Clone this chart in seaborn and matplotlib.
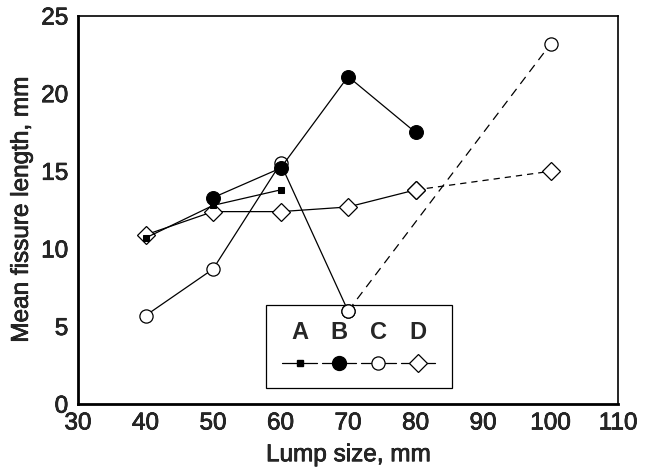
import matplotlib
matplotlib.use("Agg")
import matplotlib.pyplot as plt
import matplotlib.patheffects as pe
import seaborn as sns
from matplotlib.lines import Line2D
from matplotlib.offsetbox import VPacker

# ---- data ----
a_x = [40, 50, 60]
a_y = [10.7, 12.8, 13.8]
b_x = [50, 60, 70, 80]
b_y = [13.3, 15.2, 21.1, 17.5]
c_x = [40, 50, 60, 70]
c_y = [5.7, 8.7, 15.5, 6.0]
c_ext_x = [70, 100]
c_ext_y = [6.0, 23.2]
d_x = [40, 50, 60, 70, 80]
d_y = [10.9, 12.4, 12.4, 12.7, 13.8]
d_ext_x = [80, 100]
d_ext_y = [13.8, 15.0]
series_names = ["A", "B", "C", "D"]
x_ticks = [30, 40, 50, 60, 70, 80, 90, 100, 110]
y_ticks = [0, 5, 10, 15, 20, 25]

sns.set_theme(style="white")
plt.rcParams["font.family"] = ["Liberation Sans", "DejaVu Sans"]

fig = plt.figure(figsize=(6.5, 4.71), dpi=100)
ax = fig.add_axes([0.12, 0.142, 0.831, 0.824])

lw = 0.9
styles = {
    "A": dict(marker="s", markersize=5, markerfacecolor="black", markeredgecolor="black"),
    "B": dict(marker="o", markersize=10, markerfacecolor="black", markeredgecolor="black"),
    "C": dict(marker="o", markersize=9.5, markerfacecolor="white", markeredgecolor="black", markeredgewidth=0.9),
    "D": dict(marker="D", markersize=9, markerfacecolor="white", markeredgecolor="black", markeredgewidth=0.9),
}

# dashed extensions
sns.lineplot(x=c_ext_x, y=c_ext_y, ax=ax, color="black", lw=lw,
             linestyle=(0, (7, 5)), zorder=3, **styles["C"])
sns.lineplot(x=d_ext_x, y=d_ext_y, ax=ax, color="black", lw=lw,
             linestyle=(0, (5, 4)), zorder=3, **styles["D"])

for name, xs, ys in [("C", c_x, c_y), ("D", d_x, d_y), ("B", b_x, b_y), ("A", a_x, a_y)]:
    sns.lineplot(x=xs, y=ys, ax=ax, color="black", lw=lw, zorder=4, **styles[name])

ax.set_xlim(30, 110)
ax.set_ylim(0, 25)
ax.set_xticks(x_ticks)
ax.set_yticks(y_ticks)
ax.tick_params(axis="x", direction="in", length=5, width=0.8, labelsize=17.5, pad=6, color="black")
ax.tick_params(axis="y", direction="in", length=0, labelsize=17.5, pad=7)
for s in ax.spines.values():
    s.set_color("black")
    s.set_linewidth(1.2)
ax.spines["left"].set_linewidth(2)
ax.spines["bottom"].set_linewidth(2)
ax.set_xlabel("Lump size, mm", fontsize=17.5, labelpad=7)
ax.set_ylabel("Mean fissure length, mm", fontsize=17.5, labelpad=6)

thick = [pe.withStroke(linewidth=0.5, foreground="black")]
for t in ax.get_xticklabels() + ax.get_yticklabels() + [ax.xaxis.label, ax.yaxis.label]:
    t.set_path_effects(thick)

handles = []
for name in series_names:
    st = dict(styles[name])
    handles.append(Line2D([], [], color="black", lw=lw, linestyle="-", **st))
leg = ax.legend(handles, series_names, ncol=4, loc="lower left",
                bbox_to_anchor=(0.348, 0.041), frameon=True, fancybox=False,
                framealpha=1, handlelength=1.45, columnspacing=0.22, handletextpad=0,
                prop={"size": 17, "weight": "bold"}, borderpad=0.7,
                borderaxespad=0)
leg.get_frame().set_edgecolor("black")
leg.get_frame().set_linewidth(0.9)
leg.set_zorder(2)
for col in leg._legend_handle_box.get_children():
    new = []
    for item in col.get_children():
        h, t = item.get_children()
        new.append(VPacker(pad=0, sep=8, children=[t, h], align="center"))
    col._children = new

fig.savefig("out.png", dpi=100)
